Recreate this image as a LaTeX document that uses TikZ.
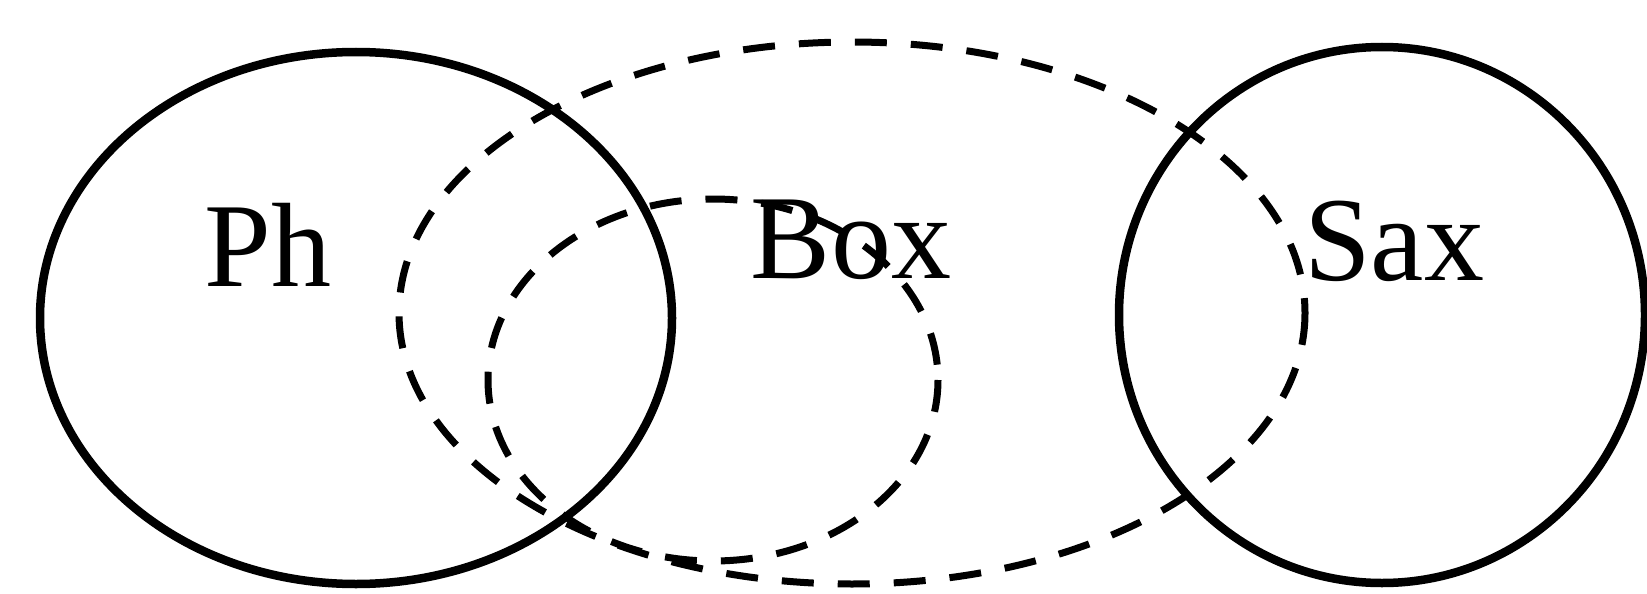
\documentclass[tikz,border=0pt]{standalone}
\usepackage{fontspec}
\setmainfont{Liberation Serif}
\begin{document}
\begin{tikzpicture}[x=1pt,y=-1pt,
  solidring/.style={line width=8.5pt},
  dashring/.style={line width=7pt,dash pattern=on 32pt off 24pt},
  label/.style={inner sep=0pt,anchor=base,font=\fontsize{120}{130}\selectfont}]
\useasboundingbox (0,0) rectangle (1647,594);
\draw[solidring] (356,318) ellipse [x radius=316, y radius=266];
\draw[solidring] (1382,315) ellipse [x radius=263, y radius=268];
\draw[dashring] (852,313) ellipse [x radius=453, y radius=271];
\draw[dashring] (713,380) ellipse [x radius=225, y radius=181];
\node[label] (ph) at (268,286) {Ph};
\node[label] (box) at (851,278) {Box};
\node[label] (sax) at (1394,280) {Sax};
\end{tikzpicture}
\end{document}
